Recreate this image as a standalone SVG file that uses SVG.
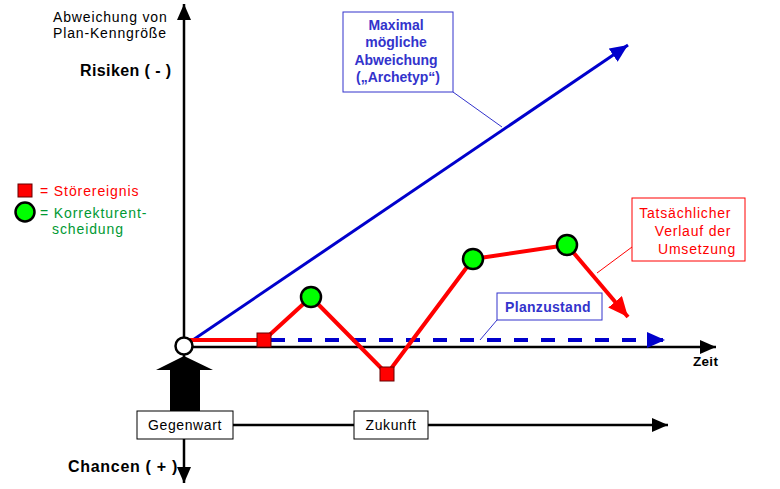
<svg xmlns="http://www.w3.org/2000/svg" width="780" height="489" viewBox="0 0 780 489">
<defs>
<style>
text{font-family:"Liberation Sans",Arial,sans-serif}
.ax{stroke:#000;stroke-width:2.5;fill:none}
.lbl{font-size:14px;fill:#000}
.bold{font-weight:bold}
.blue{fill:#3333CC}
.red{fill:#FF0000}
.green{fill:#009933}
.sq{fill:#FF0000;stroke:#660000;stroke-width:1}
.gc{fill:#00FF00;stroke:#000;stroke-width:2.5}
</style>
<marker id="ahBlack" markerUnits="userSpaceOnUse" markerWidth="18" markerHeight="16" refX="16" refY="7" orient="auto"><path d="M0,0 L16,7 L0,14 z" fill="#000"/></marker>
<marker id="ahBlue" markerUnits="userSpaceOnUse" markerWidth="20" markerHeight="18" refX="18" refY="8" orient="auto"><path d="M0,0 L18,8 L0,16 z" fill="#0000CC"/></marker>
<marker id="ahRed" markerUnits="userSpaceOnUse" markerWidth="22" markerHeight="20" refX="20" refY="9" orient="auto"><path d="M0,0 L20,9 L0,18 z" fill="#FF0000"/></marker>
</defs>
<rect width="780" height="489" fill="#fff"/>

<g id="labels-left">
<text class="lbl" x="53" y="22" style="letter-spacing:0.85px">Abweichung von</text>
<text class="lbl" x="53" y="38" style="letter-spacing:0.85px">Plan-Kenngröße</text>
<text class="lbl bold" x="80" y="76" style="font-size:16px;letter-spacing:0.4px">Risiken ( - )</text>
<text class="lbl bold" x="68" y="472" style="font-size:16px;letter-spacing:0.7px">Chancen ( + )</text>
</g>

<g id="axes">
<line class="ax" x1="184" y1="347" x2="184" y2="4" marker-end="url(#ahBlack)"/>
<line class="ax" x1="184" y1="347" x2="184" y2="483" marker-end="url(#ahBlack)"/>
<line class="ax" x1="184" y1="347" x2="716" y2="347" marker-end="url(#ahBlack)"/>
<line class="ax" x1="233" y1="425" x2="668" y2="425" marker-end="url(#ahBlack)"/>
<text class="lbl bold" x="693" y="366" style="font-size:13.5px;letter-spacing:0.3px">Zeit</text>
</g>

<g id="connectors">
<line x1="184" y1="346" x2="628" y2="45" stroke="#0000CC" stroke-width="3" marker-end="url(#ahBlue)"/>
<line x1="271" y1="340" x2="665" y2="340" stroke="#0000CC" stroke-width="4" stroke-dasharray="14,13" marker-end="url(#ahBlue)"/>
<polyline points="184,340 264,340 311,297 387,374 473,259 567,245" fill="none" stroke="#FF0000" stroke-width="4" stroke-linejoin="round"/>
<line x1="567" y1="245" x2="628" y2="317" stroke="#FF0000" stroke-width="4" marker-end="url(#ahRed)"/>
<line x1="453" y1="92" x2="502" y2="127" stroke="#3333CC" stroke-width="1"/>
<line x1="632" y1="247" x2="597" y2="273" stroke="#FF0000" stroke-width="1"/>
<line x1="497" y1="320" x2="480" y2="340" stroke="#3333CC" stroke-width="1"/>
</g>

<g id="events">
<rect class="sq" x="257" y="333" width="14" height="14"/>
<rect class="sq" x="380" y="367" width="14" height="14"/>
<circle class="gc" cx="311" cy="297" r="10"/>
<circle class="gc" cx="473" cy="259" r="10"/>
<circle class="gc" cx="567" cy="245" r="10"/>
</g>

<g id="origin">
<circle cx="184" cy="346" r="8.5" fill="#fff" stroke="#000" stroke-width="2.5"/>
<polygon points="184,356 213,370 200,370 200,411 170,411 170,370 156,370" fill="#000"/>
</g>

<g id="legend">
<rect class="sq" x="18" y="184" width="14" height="13"/>
<text x="40" y="196" class="red" style="font-size:14px;letter-spacing:0.9px">= Störereignis</text>
<circle class="gc" cx="25" cy="212" r="9.5"/>
<text x="40" y="218" class="green" style="font-size:14px;letter-spacing:0.9px">= Korrekturent-</text>
<text x="52" y="234" class="green" style="font-size:14px;letter-spacing:0.9px">scheidung</text>
</g>

<g id="box-archetyp">
<rect x="343" y="12" width="110" height="80" fill="#fff" stroke="#3333CC" stroke-width="1"/>
<text class="blue bold" text-anchor="middle" style="font-size:14px">
<tspan x="398" y="30">Maximal</tspan>
<tspan x="398" y="47">mögliche</tspan>
<tspan x="398" y="65">Abweichung</tspan>
<tspan x="398" y="82">(„Archetyp“)</tspan>
</text>
</g>

<g id="box-verlauf">
<rect x="632" y="198" width="113" height="63" fill="#fff" stroke="#FF0000" stroke-width="1"/>
<text class="red" text-anchor="end" style="font-size:14px;letter-spacing:0.8px">
<tspan x="736" y="218">Tatsächlicher</tspan>
<tspan x="736" y="236">Verlauf der</tspan>
<tspan x="736" y="254">Umsetzung</tspan>
</text>
</g>

<g id="box-plan">
<rect x="497" y="293" width="105" height="27" fill="#fff" stroke="#3333CC" stroke-width="1"/>
<text class="blue bold" x="548" y="312" text-anchor="middle" style="font-size:14px;letter-spacing:0.3px">Planzustand</text>
</g>

<g id="box-gegenwart">
<rect x="137" y="411" width="96" height="28" fill="#fff" stroke="#000" stroke-width="1"/>
<text class="lbl" x="185" y="430" text-anchor="middle" style="font-size:14px;letter-spacing:0.6px">Gegenwart</text>
</g>

<g id="box-zukunft">
<rect x="354" y="411" width="74" height="28" fill="#fff" stroke="#000" stroke-width="1"/>
<text class="lbl" x="391" y="430" text-anchor="middle" style="font-size:14px;letter-spacing:0.6px">Zukunft</text>
</g>
</svg>
